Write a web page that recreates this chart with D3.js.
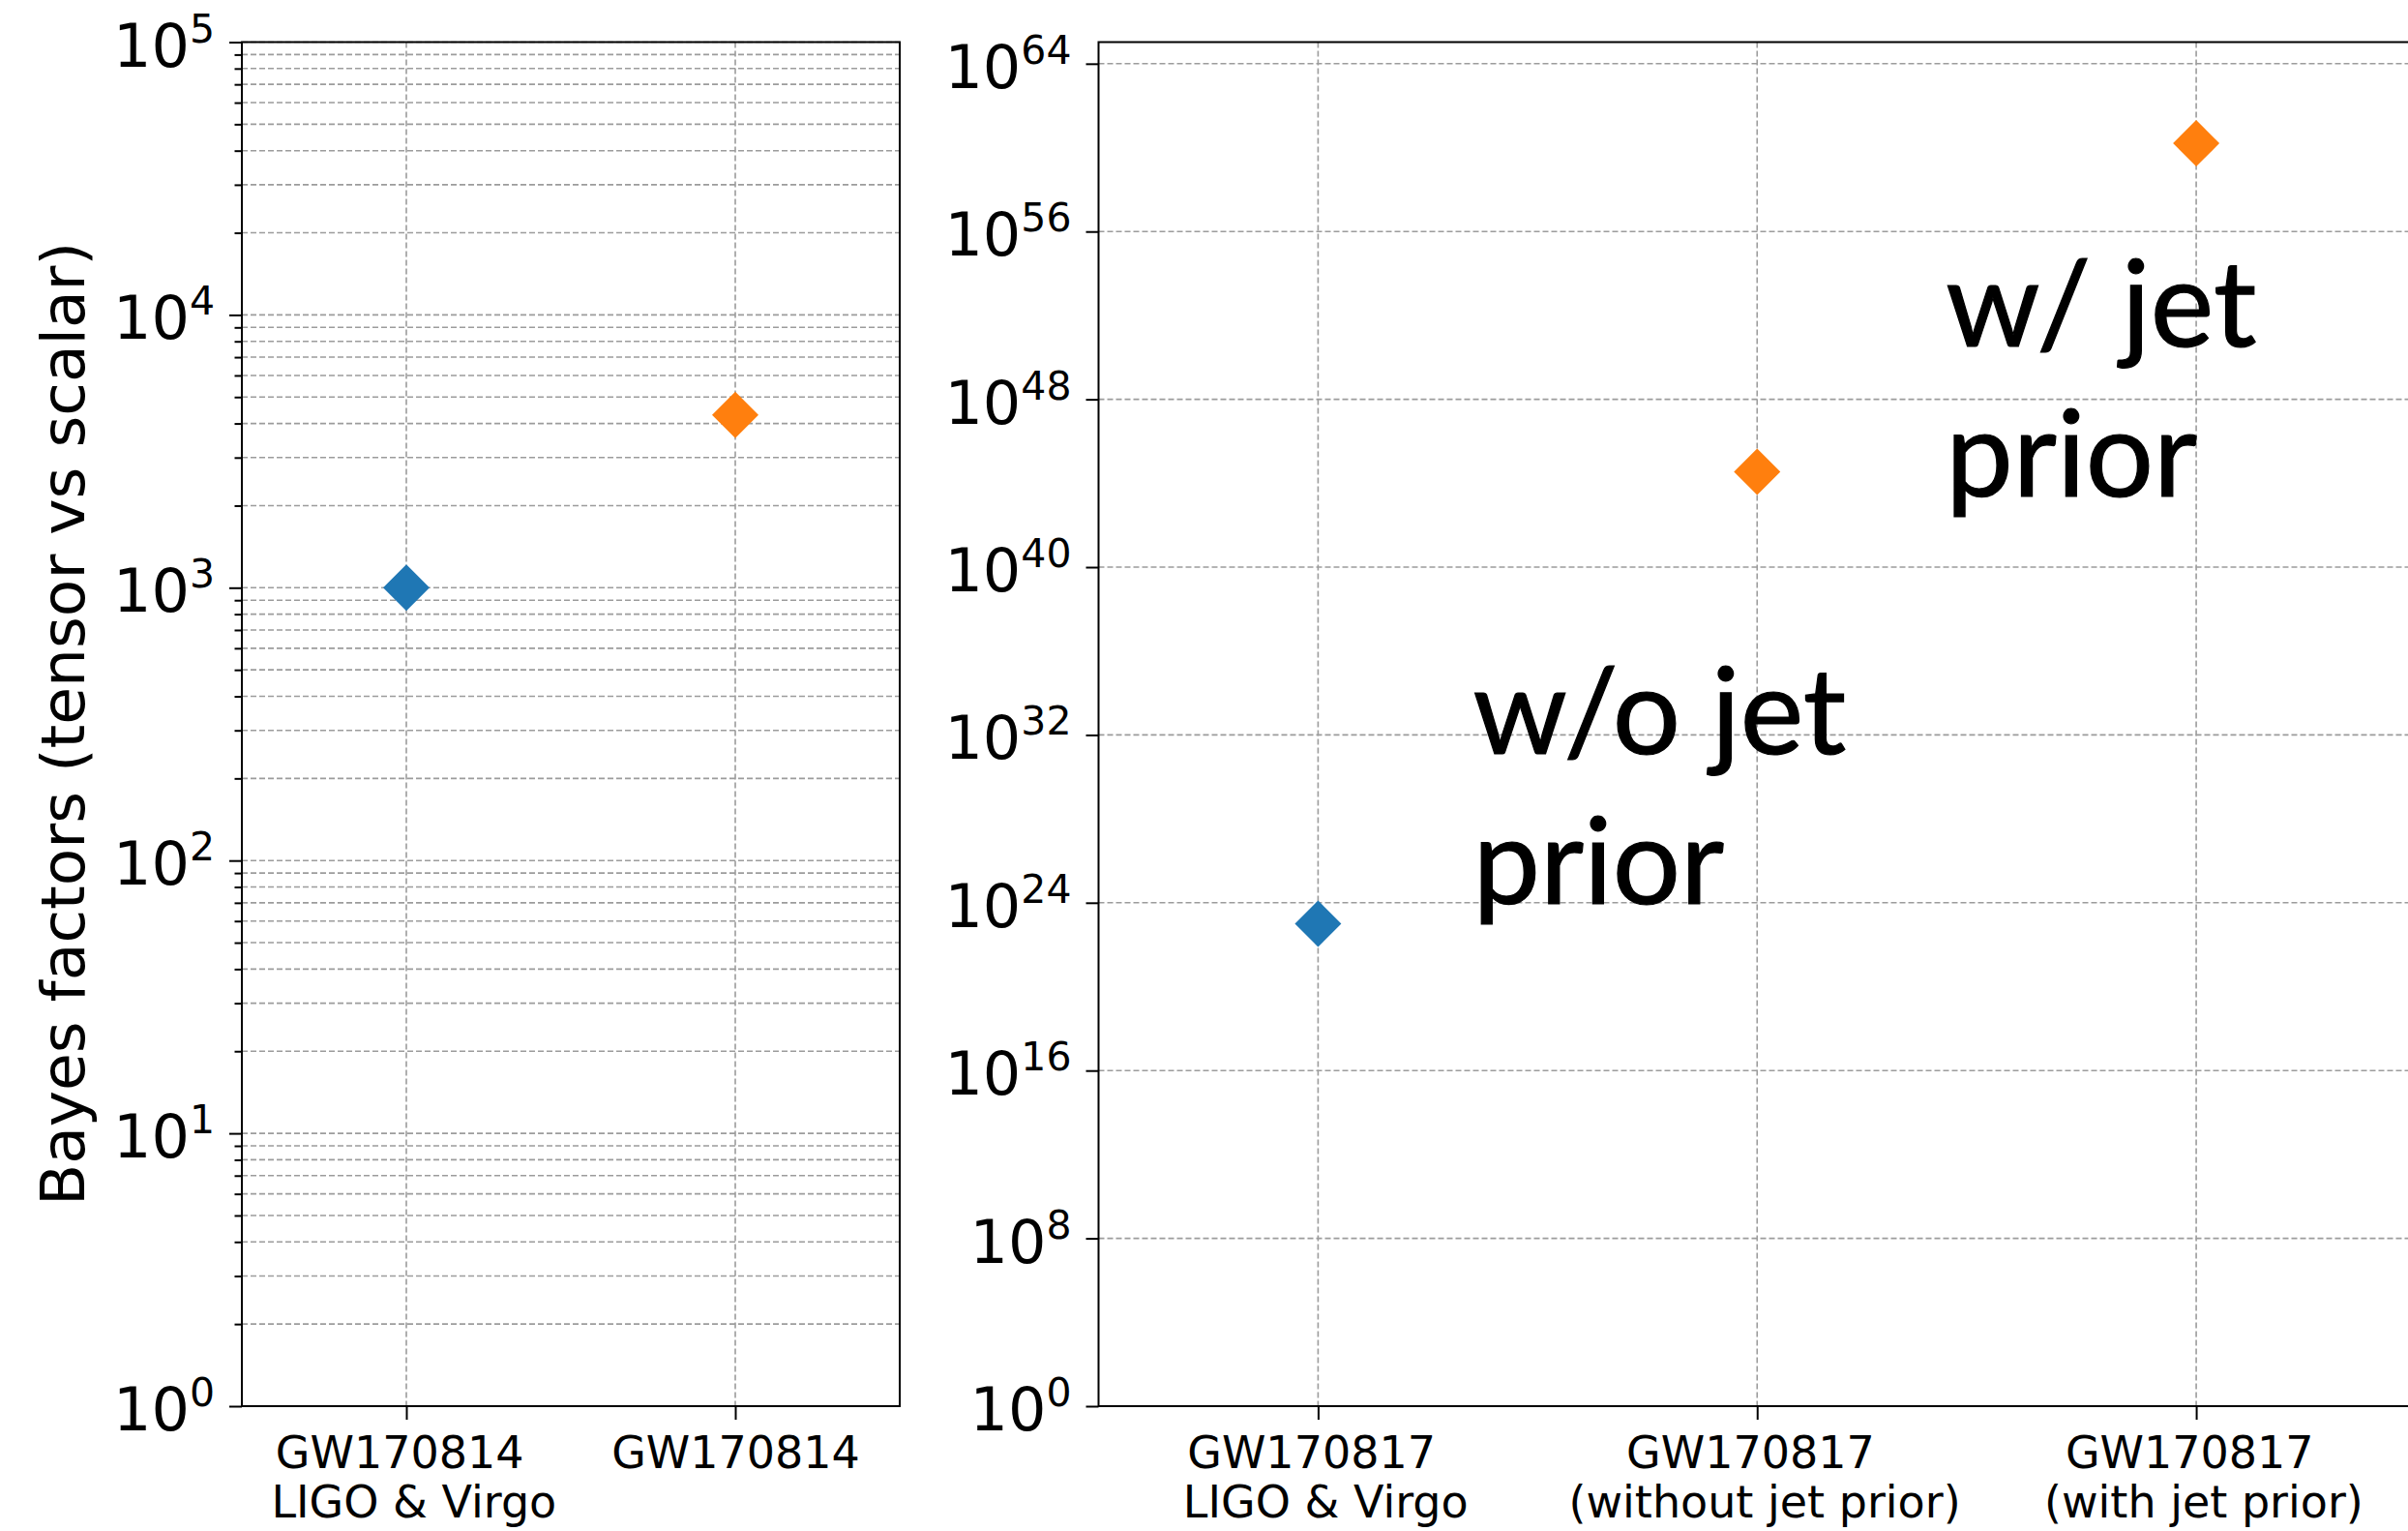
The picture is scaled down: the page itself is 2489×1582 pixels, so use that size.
<!DOCTYPE html>
<html>
<head>
<meta charset="utf-8">
<script src="https://cdn.jsdelivr.net/npm/d3@7"></script>
<style>
  html, body { margin: 0; padding: 0; background: #fff; }
  svg { display: block; }
  text { font-family: "DejaVu Sans", sans-serif; fill: #000; }
</style>
</head>
<body>
<svg id="chart" width="2489" height="1582"></svg>
<script>
// data
const leftCats = ['GW170814 \n LIGO & Virgo', 'GW170814'];
const leftValues = [1000, 4300];
const leftSeries = [0, 1];

const rightCats = ['GW170817 \n LIGO & Virgo', 'GW170817 \n (without jet prior)', 'GW170817 \n (with jet prior)'];
const rightValues = [1e23, 3.5e44, 1.6e60];
const rightSeries = [0, 1, 1];

const leftExps = [0, 1, 2, 3, 4, 5];
const rightExps = [0, 8, 16, 24, 32, 40, 48, 56, 64];

const yLabel = 'Bayes factors (tensor vs scalar)';
const notes = [
    { lines: ['w/o jet', 'prior'], cat: 0, dx: 160, exp: 31.1 },
    { lines: ['w/ jet', 'prior'], cat: 1, dx: 195, exp: 50.5 }
];

const palette = ['#1f77b4', '#ff7f0e'];
const gridColor = '#9c9c9c';

const svg = d3.select('#chart');

function panel(opts) {
    const { x0, x1, y0, y1, cats, values, series, exps, yTop, minor } = opts;
    const g = svg.append('g');

    const x = d3.scalePoint().domain(cats).range([x0, x1]).padding(0.5);
    const y = d3.scaleLog().domain([1, yTop]).range([y1, y0]);

    const majorVals = exps.map(e => Math.pow(10, e));
    let minorVals = [];
    if (minor) {
        for (let e = exps[0]; e < exps[exps.length - 1]; e++) {
            for (let m = 2; m <= 9; m++) minorVals.push(m * Math.pow(10, e));
        }
    }

    // grid
    const grid = g.append('g')
        .attr('stroke', gridColor)
        .attr('stroke-width', 1.6)
        .attr('stroke-dasharray', '6,3');
    grid.selectAll('.hg')
        .data(majorVals.concat(minorVals))
        .join('line')
        .attr('class', 'hg')
        .attr('x1', x0).attr('x2', x1)
        .attr('y1', d => y(d)).attr('y2', d => y(d));
    grid.selectAll('.vg')
        .data(cats)
        .join('line')
        .attr('class', 'vg')
        .attr('x1', d => x(d)).attr('x2', d => x(d))
        .attr('y1', y0).attr('y2', y1);

    // minor ticks
    if (minor) {
        const ma = g.append('g').attr('transform', `translate(${x0},0)`)
            .call(d3.axisLeft(y).tickValues(minorVals).tickSize(7.5).tickFormat(''));
        ma.select('.domain').remove();
        ma.selectAll('line').attr('stroke', '#000').attr('stroke-width', 2);
    }

    // major y axis
    const ya = g.append('g').attr('transform', `translate(${x0},0)`)
        .call(d3.axisLeft(y).tickValues(majorVals).tickSize(13).tickPadding(15).tickFormat(''));
    ya.select('.domain').remove();
    ya.selectAll('line').attr('stroke', '#000').attr('stroke-width', 2);
    ya.selectAll('.tick text').each(function(d) {
        const t = d3.select(this)
            .attr('dy', null)
            .attr('y', 24.5)
            .attr('text-anchor', 'end')
            .style('font-size', '62px')
            .style('font-family', '"DejaVu Sans", sans-serif')
            .attr('fill', '#000');
        t.text('');
        t.append('tspan').text('10');
        t.append('tspan')
            .attr('dy', -25)
            .style('font-size', '41px')
            .text(Math.round(Math.log10(d)));
    });

    // x axis
    const xa = g.append('g').attr('transform', `translate(0,${y1})`)
        .call(d3.axisBottom(x).tickSize(14).tickFormat(''));
    xa.select('.domain').remove();
    xa.selectAll('line').attr('stroke', '#000').attr('stroke-width', 2);
    xa.selectAll('.tick text').each(function(d) {
        const t = d3.select(this)
            .attr('dy', null)
            .attr('y', 0)
            .attr('text-anchor', 'middle')
            .style('font-size', '46px')
            .style('white-space', 'pre')
            .style('font-family', '"DejaVu Sans", sans-serif')
            .attr('fill', '#000');
        t.text('');
        d.split('\n').forEach((line, i) => {
            t.append('tspan')
                .attr('x', 0)
                .attr('y', 64 + i * 51)
                .text(line);
        });
    });

    // frame
    g.append('rect')
        .attr('x', x0).attr('y', y0)
        .attr('width', x1 - x0).attr('height', y1 - y0)
        .attr('fill', 'none')
        .attr('stroke', '#000')
        .attr('stroke-width', 2);

    // diamonds
    const sym = d3.symbol().type(d3.symbolSquare).size(1150);
    g.selectAll('.pt')
        .data(values)
        .join('path')
        .attr('class', 'pt')
        .attr('d', sym)
        .attr('transform', (d, i) => `translate(${x(cats[i])},${y(d)}) rotate(45)`)
        .attr('fill', (d, i) => palette[series[i]]);

    return { x, y, g };
}

const left = panel({
    x0: 250, x1: 930, y0: 43.5, y1: 1453,
    cats: leftCats, values: leftValues, series: leftSeries,
    exps: leftExps, yTop: 1e5, minor: true
});

const right = panel({
    x0: 1135.5, x1: 2497, y0: 43.5, y1: 1453,
    cats: rightCats, values: rightValues, series: rightSeries,
    exps: rightExps, yTop: Math.pow(10, 65.03), minor: false
});

// y label
svg.append('text')
    .attr('transform', 'translate(87,748) rotate(-90)')
    .attr('text-anchor', 'middle')
    .style('font-size', '63px')
    .text(yLabel);

// annotations
notes.forEach(n => {
    const nx = right.x(rightCats[n.cat]) + n.dx;
    const t = svg.append('text')
        .attr('x', nx)
        .attr('y', right.y(Math.pow(10, n.exp)))
        .style('font-family', 'Lato, sans-serif')
        .style('font-size', '124px')
        .attr('stroke', '#000')
        .attr('stroke-width', 1.2);
    n.lines.forEach((line, i) => {
        t.append('tspan')
            .attr('x', nx)
            .attr('dy', i === 0 ? 0 : 155)
            .text(line);
    });
});
</script>
</body>
</html>
